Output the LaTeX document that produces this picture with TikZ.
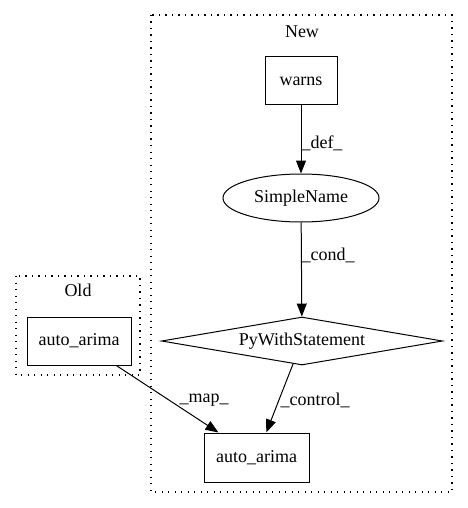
\documentclass[tikz,border=0pt]{standalone}
\usepackage{fontspec}
\setmainfont{Liberation Serif}
\usetikzlibrary{shapes.geometric,arrows.meta}
\begin{document}
\begin{tikzpicture}[x=1pt,y=-1pt,
  every node/.style={font=\fontsize{18}{20}\selectfont},
  box/.style={draw,line width=1pt,rectangle,inner sep=0pt},
  oval/.style={draw,line width=1pt,ellipse,inner sep=0pt,minimum width=156pt,minimum height=48pt},
  dia/.style={draw,line width=1pt,diamond,aspect=5.85,inner sep=0pt,minimum width=281pt,minimum height=48pt},
  cluster/.style={draw,line width=1.3pt,dash pattern=on 1.3pt off 5.2pt},
  arr/.style={line width=1pt,-{Triangle[length=13pt,width=10pt]}},
  lbl/.style={inner sep=0pt}]
\useasboundingbox (0,0) rectangle (467,508);
% clusters
\draw[cluster] (151,15) rectangle (452,492);
\draw[cluster] (16,276) rectangle (140,375);
\node[lbl] (newlbl) at (302,32) {New};
\node[lbl] (oldlbl) at (78,290) {Old};
% nodes
\node[box,minimum width=72pt,minimum height=48pt] (warns) at (301,81) {warns};
\node[oval] (sn) at (301,198) {SimpleName};
\node[dia] (pw) at (302,341) {PyWithStatement};
\node[box,minimum width=105pt,minimum height=49pt] (newaa) at (256.5,457.5) {auto\_arima};
\node[box,minimum width=104pt,minimum height=48pt] (oldaa) at (79,341) {auto\_arima};
% edges
\draw[arr] (warns) -- (sn);
\draw[arr] (sn) -- (pw);
\draw[arr] (pw) -- (newaa);
\draw[arr] (oldaa) -- (newaa);
% edge labels
\node[lbl] (ldef) at (322,143) {\_def\_};
\node[lbl] (lcond) at (328,255) {\_cond\_};
\node[lbl] (lcontrol) at (315,400) {\_control\_};
\node[lbl] (lmap) at (204,400) {\_map\_};
\end{tikzpicture}
\end{document}
